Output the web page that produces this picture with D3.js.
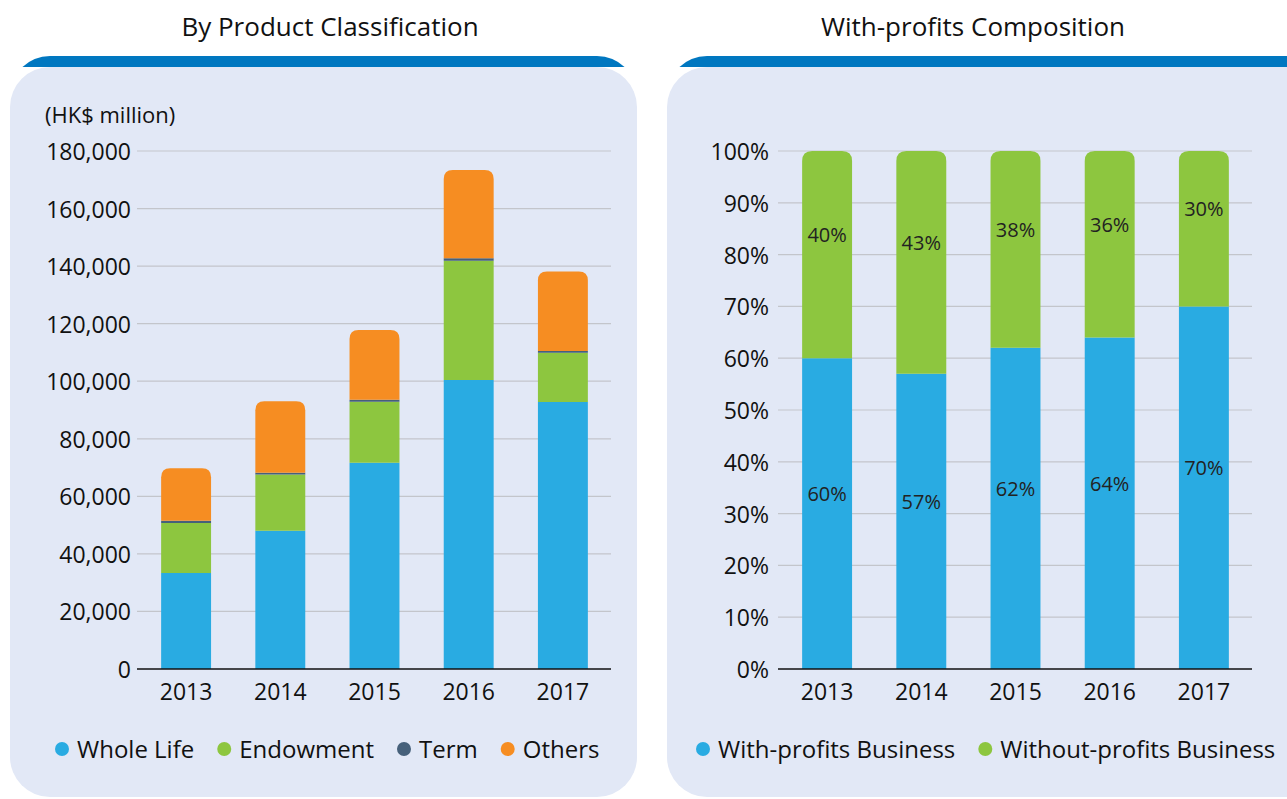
<!DOCTYPE html>
<html>
<head>
<meta charset="utf-8">
<script src="https://cdn.jsdelivr.net/npm/d3@7"></script>
<style>
  body { margin: 0; background: #fff; }
  svg { display: block; font-family: "Open Sans", "Noto Sans", sans-serif; }
</style>
</head>
<body>
<svg width="1287" height="799"></svg>
<script>
// data
var years = ['2013', '2014', '2015', '2016', '2017'];

// left chart, HK$ million
var wholeLife = [33400, 48000, 71700, 100400, 92800];
var endowment = [17300, 19600, 21200, 41500, 17100];
var term = [800, 600, 700, 800, 600];
var others = [18300, 24800, 24200, 30700, 27600];
var productNames = ['Whole Life', 'Endowment', 'Term', 'Others'];
var leftTicks = [0, 20000, 40000, 60000, 80000, 100000, 120000, 140000, 160000, 180000];

// right chart, percent
var withProfits = [60, 57, 62, 64, 70];
var withoutProfits = [40, 43, 38, 36, 30];
var compositionNames = ['With-profits Business', 'Without-profits Business'];
var rightTicks = [0, 10, 20, 30, 40, 50, 60, 70, 80, 90, 100];

var colors = {
  blue: '#29abe2',
  green: '#8dc63f',
  slate: '#46607a',
  orange: '#f68d22'
};

var svg = d3.select('svg');
var defs = svg.append('defs');

// rounded panel with a blue strip peeking out on top
function panel(id, x, w, title, titleX) {
  var g = svg.append('g');
  defs.append('clipPath').attr('id', id)
    .append('rect').attr('x', x).attr('y', 50).attr('width', w).attr('height', 17);
  g.append('rect')
    .attr('x', x).attr('y', 56).attr('width', w).attr('height', 200)
    .attr('rx', 40).attr('fill', '#0077c0')
    .attr('clip-path', 'url(#' + id + ')');
  g.append('rect')
    .attr('x', x).attr('y', 67).attr('width', w).attr('height', 730)
    .attr('rx', 40).attr('fill', '#e2e8f6');
  g.append('text')
    .attr('x', titleX).attr('y', 26)
    .attr('text-anchor', 'middle').attr('dominant-baseline', 'central')
    .attr('font-size', 26).attr('fill', '#111')
    .text(title);
}

panel('clipL', 10, 627, 'By Product Classification', 330);
panel('clipR', 667, 660, 'With-profits Composition', 973);

// path for a bar whose top corners are rounded
function topRounded(x, y, w, h, r) {
  r = Math.min(r, h, w / 2);
  return 'M' + x + ',' + (y + h) +
    'V' + (y + r) +
    'Q' + x + ',' + y + ' ' + (x + r) + ',' + y +
    'H' + (x + w - r) +
    'Q' + (x + w) + ',' + y + ' ' + (x + w) + ',' + (y + r) +
    'V' + (y + h) + 'Z';
}

function stackedChart(opt) {
  var g = svg.append('g');
  var x = d3.scaleBand().domain(years).range(opt.xRange)
    .paddingInner(0.47).paddingOuter(0.235);
  var y = d3.scaleLinear().domain(opt.yDomain).range([669, 151]);

  // gridlines
  g.selectAll('.grid').data(opt.ticks.slice(1)).enter().append('line')
    .attr('x1', opt.xRange[0] - 2).attr('x2', opt.xRange[1] + 1)
    .attr('y1', function(d) { return y(d); })
    .attr('y2', function(d) { return y(d); })
    .attr('stroke', '#c3c5cb').attr('stroke-width', 1.2);

  // y tick labels
  g.selectAll('.ylab').data(opt.ticks).enter().append('text')
    .attr('x', opt.labelX).attr('y', function(d) { return y(d); })
    .attr('text-anchor', 'end').attr('dominant-baseline', 'central')
    .attr('font-size', 23).attr('fill', '#111')
    .text(opt.format);

  // stacked bars
  var rows = years.map(function(yr, i) {
    var r = { year: yr };
    opt.series.forEach(function(s) { r[s.key] = s.values[i]; });
    return r;
  });
  var stack = d3.stack().keys(opt.series.map(function(s) { return s.key; }))(rows);
  var last = stack.length - 1;
  stack.forEach(function(layer, li) {
    g.selectAll('.bar' + li).data(layer).enter().append('path')
      .attr('fill', opt.series[li].color)
      .attr('d', function(d) {
        var bx = x(d.data.year), bw = x.bandwidth();
        var top = y(d[1]), h = y(d[0]) - y(d[1]);
        if (li === last) return topRounded(bx, top, bw, h, opt.radius);
        return 'M' + bx + ',' + top + 'h' + bw + 'v' + h + 'h' + (-bw) + 'Z';
      });
  });

  // value labels inside segments
  if (opt.showValues) {
    stack.forEach(function(layer) {
      g.selectAll('.val').data(layer).enter().append('text')
        .attr('x', function(d) { return x(d.data.year) + x.bandwidth() / 2; })
        .attr('y', function(d) { return (y(d[0]) + y(d[1])) / 2 - 20; })
        .attr('text-anchor', 'middle').attr('dominant-baseline', 'central')
        .attr('font-size', 20).attr('fill', '#222')
        .text(function(d) { return (d[1] - d[0]) + '%'; });
    });
  }

  // baseline
  g.append('line')
    .attr('x1', opt.xRange[0] - 2).attr('x2', opt.xRange[1] + 1)
    .attr('y1', y(0)).attr('y2', y(0))
    .attr('stroke', '#111').attr('stroke-width', 1.5);

  // x labels
  g.selectAll('.xlab').data(years).enter().append('text')
    .attr('x', function(d) { return x(d) + x.bandwidth() / 2; })
    .attr('y', 691)
    .attr('text-anchor', 'middle').attr('dominant-baseline', 'central')
    .attr('font-size', 23).attr('fill', '#111')
    .text(function(d) { return d; });

  // legend
  var lx = opt.legendX;
  opt.series.forEach(function(s) {
    g.append('circle').attr('cx', lx).attr('cy', 749).attr('r', 7)
      .attr('fill', s.color);
    var t = g.append('text')
      .attr('x', lx + 15).attr('y', 748)
      .attr('dominant-baseline', 'central')
      .attr('font-size', 24).attr('fill', '#111')
      .text(s.name);
    lx += 15 + t.node().getComputedTextLength() + 30;
  });
  return g;
}

var left = stackedChart({
  xRange: [139, 610],
  yDomain: [0, 180000],
  ticks: leftTicks,
  labelX: 131,
  format: d3.format(','),
  radius: 9,
  legendX: 62,
  series: [
    { key: 'whole', name: productNames[0], values: wholeLife, color: colors.blue },
    { key: 'endow', name: productNames[1], values: endowment, color: colors.green },
    { key: 'term', name: productNames[2], values: term, color: colors.slate },
    { key: 'others', name: productNames[3], values: others, color: colors.orange }
  ]
});

left.append('text')
  .attr('x', 45).attr('y', 114)
  .attr('dominant-baseline', 'central')
  .attr('font-size', 22).attr('fill', '#111')
  .text('(HK$ million)');

stackedChart({
  xRange: [780, 1251],
  yDomain: [0, 100],
  ticks: rightTicks,
  labelX: 769,
  format: function(d) { return d + '%'; },
  radius: 10,
  legendX: 703,
  showValues: true,
  series: [
    { key: 'with', name: compositionNames[0], values: withProfits, color: colors.blue },
    { key: 'without', name: compositionNames[1], values: withoutProfits, color: colors.green }
  ]
});
</script>
</body>
</html>
